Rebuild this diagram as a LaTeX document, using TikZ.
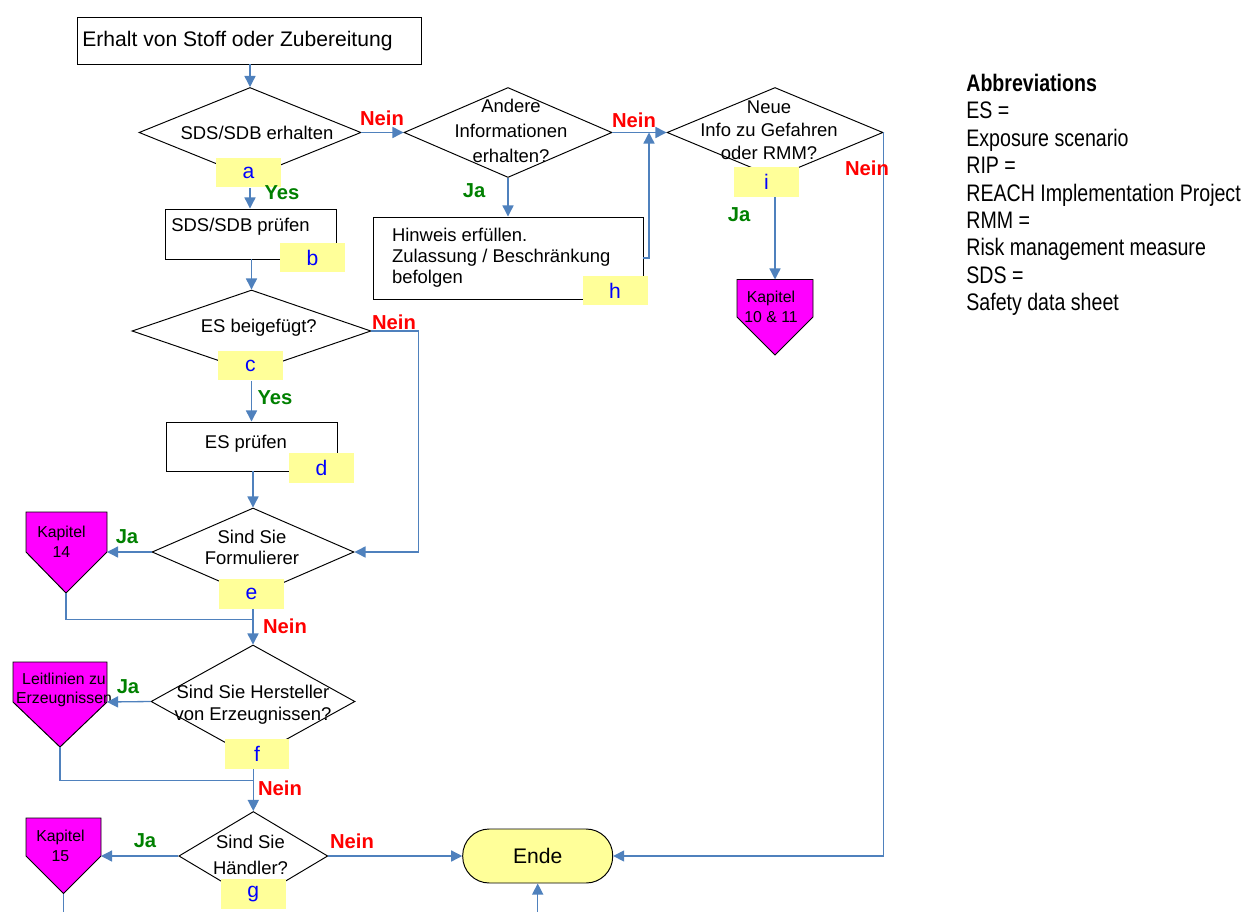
\documentclass[tikz,border=0pt]{standalone}
\usepackage{fontspec}
\setmainfont{Liberation Sans}
\newfontfamily\narrowfont{Liberation Sans}[FakeStretch=0.82]
\usetikzlibrary{arrows.meta,shapes.geometric}
\definecolor{lineblue}{HTML}{4F81BD}
\definecolor{tagyellow}{HTML}{FFFF99}
\definecolor{tagblue}{HTML}{0000FF}
\definecolor{yesgreen}{HTML}{008000}
\definecolor{chapmagenta}{HTML}{FF00FF}
\newcommand\setfs[2]{\fontsize{#1}{#2}\selectfont}
\begin{document}
\begin{tikzpicture}[x=0.02cm,y=-0.02cm,
  conn/.style={draw=lineblue, line width=0.75pt},
  arr/.style={conn, -{Triangle[length=6.3pt,width=6.3pt]}},
  dia/.style={diamond, draw=black, line width=0.55pt, inner sep=0pt, fill=white},
  pbox/.style={rectangle, draw=black, line width=0.55pt, inner sep=0pt, fill=white},
  tag/.style={rectangle, fill=tagyellow, text=tagblue, inner sep=0pt,
              font=\setfs{12}{14}, minimum width=1.3cm, minimum height=0.6cm},
  txt/.style={inner sep=0pt, align=center, font=\setfs{10.5}{12.6}},
  nolab/.style={inner sep=0pt, text=red, font=\bfseries\setfs{11.5}{13}},
  yeslab/.style={inner sep=0pt, text=yesgreen, font=\bfseries\setfs{11.5}{13}},
  chap/.style={draw=black, line width=0.55pt, fill=chapmagenta},
  chaptxt/.style={inner sep=0pt, align=center, font=\setfs{9}{11.2}},
  endbox/.style={rectangle, rounded corners=0.53cm, draw=black, line width=0.55pt,
                 fill=tagyellow, inner sep=0pt, font=\setfs{12}{14}}
]
\useasboundingbox (0,0) rectangle (1250,912);

% ---- decisions and process boxes ----
\node[pbox, minimum width=6.9cm, minimum height=0.94cm] (start) at (249.5,40.5) {};
\node[inner sep=0pt, anchor=west, font=\setfs{12}{14}] (startt) at (82,41) {Erhalt von Stoff oder Zubereitung};

\node[dia, minimum width=4.44cm, minimum height=1.8cm] (dA) at (250,132.5) {};
\node[txt] (dAt) at (257,133) {SDS/SDB erhalten};

\node[pbox, minimum width=3.42cm, minimum height=1.0cm] (bB) at (250.5,234) {};
\node[txt, anchor=west] (bBt) at (171,227) {SDS/SDB prüfen};

\node[dia, minimum width=4.78cm, minimum height=1.64cm] (dC) at (251.5,331) {};
\node[txt] (dCt) at (258.8,328) {ES beigefügt?};

\node[pbox, minimum width=3.42cm, minimum height=0.98cm] (dD) at (251.5,446.5) {};
\node[txt] (dDt) at (246,444) {ES prüfen};

\node[dia, minimum width=4.04cm, minimum height=1.76cm] (dE) at (253,552) {};
\node[txt, font=\setfs{10.5}{11.7}] (dEt) at (252,547.5) {Sind Sie\\Formulierer};

\node[dia, minimum width=4.08cm, minimum height=2.26cm] (dF) at (253,701.5) {};
\node[txt, font=\setfs{10.5}{12.7}] (dFt) at (253,704.5) {Sind Sie Hersteller\\von Erzeugnissen?};

\node[dia, minimum width=2.98cm, minimum height=1.78cm] (dG) at (253.3,856) {};
\node[txt, font=\setfs{10.5}{15.1}] (dGt) at (250.5,855) {Sind Sie\\Händler?};

\node[dia, minimum width=4.16cm, minimum height=1.8cm] (dI) at (508,132.5) {};
\node[txt, font=\setfs{10.5}{14.2}] (dIt) at (511,131) {Andere\\Informationen\\erhalten?};

\node[pbox, minimum width=5.4cm, minimum height=1.64cm] (hB) at (508,258) {};
\node[txt, align=left, anchor=west, font=\setfs{10.5}{11.8}] (hBt) at (391.7,257.7)
  {Hinweis erfüllen.\\Zulassung / Beschränkung\\befolgen};

\node[dia, minimum width=4.32cm, minimum height=1.8cm] (dN) at (775,132.5) {};
\node[txt, font=\setfs{10.5}{13}] (dNt) at (769,130.5) {Neue\\Info zu Gefahren\\oder RMM?};

\node[endbox, minimum width=3.0cm, minimum height=1.08cm] (ende) at (537.7,856) {Ende};

% ---- step tags ----
\node[tag] (ta) at (248.5,172.5) {a};
\node[tag] (tb) at (312.5,257.5) {b};
\node[tag] (tc) at (250.5,365.5) {c};
\node[tag] (td) at (321.5,468) {d};
\node[tag] (te) at (251.5,594) {e};
\node[tag] (tf) at (257,753.5) {f};
\node[tag] (tg) at (253.3,894) {g};
\node[tag] (th) at (615,290.5) {h};
\node[tag] (ti) at (766.5,182) {i};

% ---- chapter pointers ----
\draw[chap] (26,512) -- (107,512) -- (107,552) coordinate (k14e)
  -- (66,593) coordinate (k14s) -- (26,552) -- cycle;
\node[chaptxt] (k14t) at (61.5,542) {Kapitel\\14};

\draw[chap] (13,662) -- (107,662) -- (107,702) coordinate (kle)
  -- (60,747) coordinate (kls) -- (13,702) -- cycle;
\node[chaptxt] (klt) at (64,690) {Leitlinien zu\\Erzeugnissen};

\draw[chap] (26,818) -- (101,818) -- (101,856) coordinate (k15e)
  -- (63.5,893.5) coordinate (k15s) -- (26,856) -- cycle;
\node[chaptxt] (k15t) at (60.5,845.5) {Kapitel\\15};

\draw[chap] (737,279.5) coordinate (k1011w) -- (813,279.5) -- (813,317)
  -- (775,355) -- (737,317) -- cycle;
\coordinate (k1011n) at (775,279.5);
\node[chaptxt] (k1011t) at (771,307) {Kapitel\\10 \& 11};

% ---- junction and loose ends ----
\path (dF.north) ++(0,-25) coordinate (j1);
\path (dG.north) ++(0,-30.7) coordinate (j2);
\coordinate (hloop) at (649,132.5);
\coordinate (k15out) at (63.5,912);
\coordinate (endein) at (537.7,912);

% ---- connectors ----
\draw[arr] (start.south -| dA.north) -- (dA.north);
\draw[arr] (dA.east) -- (dI.west);
\draw[arr] (ta.south -| dA.south) -- (bB.north -| dA.south);
\draw[arr] (bB.south -| dC.north) -- (dC.north);
\draw[arr] (dC.east) -- ++(47,0) |- (dE.east);
\draw[arr] (tc.south -| dC.south) -- (dD.north -| dC.south);
\draw[arr] (dD.south -| dE.north) -- (dE.north);
\draw[arr] (dE.west) -- (k14e);
\draw[arr] (te.south -| dE.south) -- (dF.north);
\draw[conn] (k14s) |- (j1);
\draw[arr] (dF.west) -- (kle);
\draw[arr] (tf.south -| dG.north) -- (dG.north);
\draw[conn] (kls) |- (j2);
\draw[arr] (dG.west) -- (k15e);
\draw[arr] (dG.east) -- (ende.west);
\draw[conn] (k15s) -- (k15out);
\draw[arr] (endein) -- (ende.south);
\draw[arr] (dI.south) -- (hB.north);
\draw[arr] (hB.east) -| (hloop);
\draw[arr] (dI.east) -- (dN.west);
\draw[arr] (ti.south -| dN.south) -- (k1011n);
\draw[arr] (dN.east) |- (ende.east);

% ---- branch labels ----
\node[nolab] (n1) at (382,118) {Nein};
\node[yeslab] (y1) at (282,193) {Yes};
\node[nolab] (n2) at (394,322) {Nein};
\node[yeslab] (y2) at (275,398) {Yes};
\node[yeslab] (y3) at (127,537) {Ja};
\node[nolab] (n3) at (285,626) {Nein};
\node[yeslab] (y4) at (128,687) {Ja};
\node[nolab] (n4) at (280,788) {Nein};
\node[yeslab] (y5) at (145,841) {Ja};
\node[nolab] (n5) at (352,841) {Nein};
\node[yeslab] (y6) at (474,191) {Ja};
\node[nolab] (n6) at (634,120) {Nein};
\node[nolab] (n7) at (867,168) {Nein};
\node[yeslab] (y7) at (739,215) {Ja};

% ---- abbreviations ----
\node[inner sep=0pt, anchor=west, align=left, font=\narrowfont\setfs{13.6}{15.6}] (abbr) at (966,195)
  {\textbf{Abbreviations}\\ES =\\Exposure scenario\\RIP =\\REACH Implementation Project\\RMM =\\Risk management measure\\SDS =\\Safety data sheet};
\end{tikzpicture}
\end{document}
